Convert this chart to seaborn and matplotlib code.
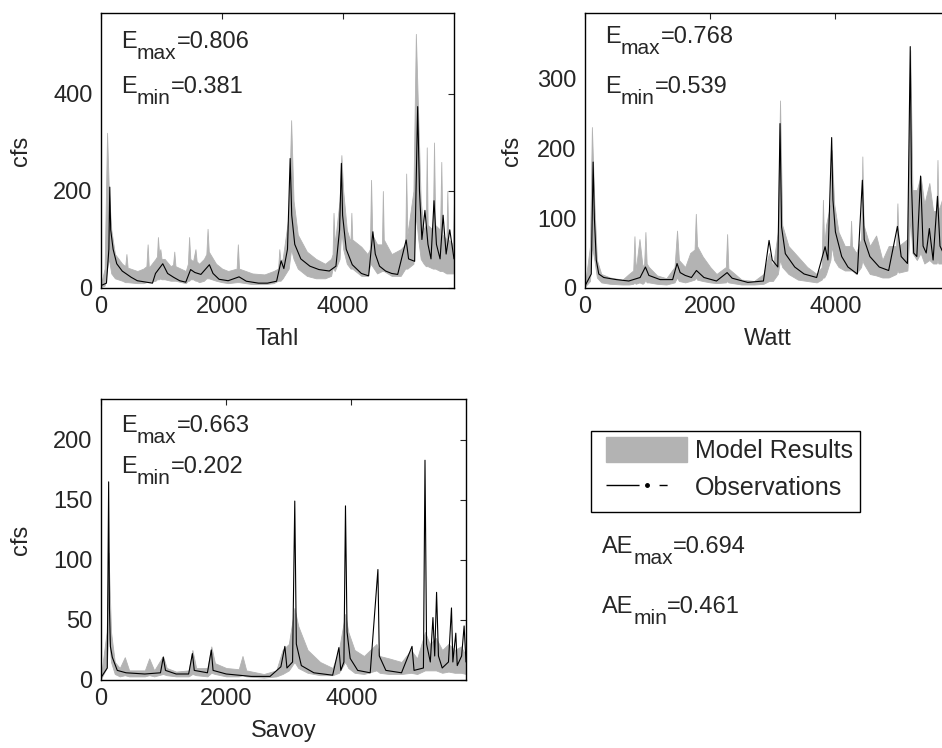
import seaborn as sns
import matplotlib.pyplot as plt
import matplotlib.patches as mpatches
from matplotlib.lines import Line2D
from matplotlib.transforms import offset_copy

# ---- data (time step index vs flow in cfs) ----
tahl_t = [0, 60, 100, 130, 170, 230, 350, 400, 420, 440, 600, 700, 750, 770, 790, 900, 925, 940, 960, 980, 1000, 1050, 1150,
          1190, 1210, 1230, 1400, 1435, 1455, 1475, 1520, 1560, 1580, 1620, 1700, 1740, 1760, 1780, 1900, 2000, 2100,
          2240, 2260, 2280, 2500, 2700, 2850, 2925, 2945, 2965, 3000, 3100, 3140, 3180, 3250, 3400, 3550, 3700, 3800,
          3825, 3840, 3860, 3940, 3970, 4000, 4060, 4120, 4135, 4150, 4300, 4400, 4440, 4460, 4480, 4560, 4640, 4655,
          4670, 4800, 4950, 5025, 5040, 5060, 5160, 5200, 5240, 5280, 5330, 5365, 5380, 5395, 5480, 5500, 5520, 5600,
          5620, 5640, 5705, 5720, 5735, 5810, 5830]
tahl_lo = [2, 5, 40, 60, 30, 20, 15, 12, 12, 12, 10, 10, 12, 12, 12, 15, 18, 18, 18, 20, 18, 18, 15,
           15, 15, 15, 10, 15, 15, 18, 18, 15, 15, 12, 15, 20, 20, 20, 15, 12, 10,
           12, 12, 12, 8, 8, 10, 15, 15, 15, 20, 40, 80, 60, 40, 25, 20, 20, 25,
           40, 40, 35, 60, 120, 80, 50, 40, 40, 40, 25, 25, 45, 50, 45, 30, 35, 35,
           35, 25, 25, 40, 40, 40, 50, 150, 100, 60, 50, 45, 45, 45, 40, 40, 40, 35,
           35, 35, 30, 30, 30, 30, 30]
tahl_hi = [8, 40, 320, 200, 120, 70, 50, 45, 70, 42, 35, 40, 45, 90, 42, 60, 65, 105, 70, 80, 60, 60, 45,
           48, 75, 45, 35, 50, 105, 60, 55, 80, 55, 50, 60, 70, 122, 75, 50, 40, 35,
           40, 90, 40, 30, 28, 35, 40, 80, 55, 60, 150, 346, 180, 110, 75, 60, 50, 60,
           70, 155, 90, 180, 274, 200, 120, 95, 155, 100, 85, 70, 80, 223, 110, 90, 90, 200,
           100, 70, 80, 90, 236, 110, 200, 524, 350, 180, 120, 130, 290, 130, 120, 300, 130, 120,
           260, 110, 100, 200, 100, 90, 180]
tahl_obs_t = [0, 90, 130, 145, 160, 200, 260, 350, 500, 600, 750, 850, 900, 960, 1020, 1100, 1200, 1300, 1400,
              1480, 1550, 1650, 1790, 1850, 1950, 2100, 2280, 2400, 2600, 2750, 2900, 2975, 3020, 3080, 3124, 3150,
              3200, 3300, 3450, 3600, 3770, 3880, 3940, 3970, 3990, 4050, 4150, 4300, 4420, 4490, 4530, 4600, 4700,
              4800, 4900, 5040, 5080, 5180, 5230, 5260, 5300, 5350, 5400, 5450, 5500, 5540, 5600, 5650, 5700, 5760,
              5830]
tahl_obs = [5, 10, 80, 208, 120, 80, 50, 35, 22, 15, 12, 10, 30, 40, 50, 30, 22, 15, 12,
            38, 32, 28, 48, 30, 18, 15, 23, 14, 10, 10, 14, 56, 40, 80, 267, 150,
            90, 60, 45, 38, 35, 45, 120, 257, 150, 80, 48, 30, 25, 116, 70, 45, 35,
            30, 28, 99, 60, 55, 374, 200, 100, 160, 90, 60, 180, 90, 60, 150, 70, 120,
            60]

watt_t = [0, 80, 110, 150, 190, 260, 400, 600, 700, 770, 790, 810, 870, 920, 945, 965, 985, 1020, 1150, 1300, 1430,
          1470, 1500, 1600, 1680, 1750, 1770, 1790, 1880, 2000, 2100, 2250, 2270, 2290, 2500, 2700, 2850, 2940, 3000,
          3080, 3115, 3150, 3250, 3400, 3550, 3700, 3780, 3800, 3820, 3850, 3920, 3940, 3980, 4050, 4150, 4235, 4250,
          4265, 4330, 4410, 4430, 4450, 4550, 4650, 4750, 4850, 4970, 4990, 5010, 5150, 5195, 5230, 5300, 5360, 5420,
          5500, 5560, 5615, 5630, 5645, 5750, 5830]
watt_lo = [2, 10, 60, 40, 15, 8, 6, 5, 5, 6, 8, 6, 8, 6, 8, 12, 8, 8, 6, 5, 8,
           15, 10, 8, 10, 12, 15, 12, 10, 8, 7, 8, 10, 8, 5, 5, 6, 10, 10,
           20, 40, 30, 20, 12, 10, 8, 12, 15, 15, 20, 40, 60, 40, 30, 25, 25, 25,
           25, 20, 30, 40, 35, 20, 18, 15, 15, 20, 25, 22, 25, 100, 50, 40, 50, 35,
           40, 35, 35, 40, 35, 35, 30]
watt_hi = [5, 60, 230, 120, 40, 20, 15, 12, 20, 25, 74, 25, 70, 30, 35, 80, 35, 30, 18, 14, 30,
           82, 40, 30, 50, 55, 106, 60, 45, 30, 20, 30, 77, 28, 12, 10, 20, 50, 30,
           80, 268, 90, 60, 45, 30, 20, 30, 126, 60, 90, 120, 197, 120, 80, 60, 60, 96,
           60, 50, 70, 188, 90, 60, 75, 40, 60, 60, 121, 60, 70, 340, 140, 140, 160, 120,
           150, 110, 110, 183, 110, 140, 100]
watt_obs_t = [0, 100, 130, 150, 180, 220, 300, 500, 700, 880, 965, 1020, 1200, 1400, 1470, 1520, 1600, 1700, 1780,
              1900, 2100, 2270, 2350, 2600, 2850, 2940, 2990, 3080, 3115, 3140, 3200, 3350, 3500, 3700, 3835, 3880,
              3940, 3960, 4000, 4100, 4200, 4350, 4430, 4460, 4550, 4700, 4850, 4990, 5050, 5150, 5195, 5215, 5250,
              5300, 5360, 5400, 5450, 5500, 5560, 5630, 5670, 5750, 5830]
watt_obs = [3, 20, 180, 100, 40, 20, 15, 12, 10, 15, 30, 18, 12, 12, 35, 22, 18, 15, 25,
            15, 10, 22, 14, 8, 10, 68, 40, 30, 235, 87, 49, 30, 20, 15, 59, 40,
            215, 126, 80, 45, 30, 20, 154, 69, 45, 30, 25, 88, 45, 35, 345, 150, 50,
            45, 160, 60, 50, 85, 40, 131, 60, 45, 60]

savoy_t = [0, 90, 120, 160, 220, 300, 380, 450, 700, 770, 850, 990, 1050, 1200, 1400, 1460, 1520, 1700, 1762, 1820,
           2000, 2200, 2260, 2320, 2600, 2800, 2900, 3000, 3090, 3150, 3300, 3500, 3700, 3800, 3900, 3950, 4050, 4200,
           4400, 4450, 4600, 4800, 4950, 5050, 5175, 5250, 5350, 5450, 5550, 5650, 5750, 5830]
savoy_lo = [1, 10, 40, 15, 5, 3, 4, 3, 3, 4, 3, 5, 4, 3, 3, 5, 4, 3, 6, 5,
            3, 3, 4, 3, 2, 3, 5, 8, 15, 10, 6, 4, 4, 6, 15, 10, 6, 5,
            8, 6, 5, 5, 6, 5, 8, 8, 8, 6, 7, 6, 6, 5]
savoy_hi = [3, 40, 106, 40, 15, 10, 19, 8, 8, 18, 8, 20, 10, 7, 8, 25, 10, 10, 28, 14,
            10, 9, 20, 8, 5, 8, 25, 30, 60, 45, 25, 15, 10, 25, 55, 40, 25, 20,
            30, 20, 18, 15, 25, 18, 40, 30, 35, 25, 30, 25, 28, 20]
savoy_obs_t = [0, 100, 122, 135, 150, 180, 260, 400, 700, 950, 995, 1030, 1200, 1400, 1460, 1490, 1700, 1762, 1790,
               2000, 2200, 2400, 2700, 2873, 2937, 2970, 3060, 3095, 3120, 3200, 3400, 3700, 3800, 3830, 3880, 3905,
               3930, 3980, 4100, 4300, 4423, 4445, 4550, 4800, 4968, 5000, 5150, 5175, 5200, 5260, 5302, 5330, 5360,
               5390, 5450, 5550, 5598, 5620, 5667, 5690, 5760, 5800, 5830]
savoy_obs = [2, 10, 165, 60, 28, 19, 8, 6, 5, 6, 19, 8, 5, 5, 22, 8, 6, 25, 8,
             5, 4, 3, 3, 11, 28, 10, 15, 149, 30, 12, 6, 4, 27, 8, 15, 145,
             40, 18, 8, 6, 92, 20, 8, 6, 28, 8, 10, 183, 30, 15, 52, 20, 73,
             20, 10, 15, 60, 15, 39, 12, 20, 45, 15]

sites = ["Tahl", "Watt", "Savoy"]
e_max = ["0.806", "0.768", "0.663"]
e_min = ["0.381", "0.539", "0.202"]
ae_max = "0.694"
ae_min = "0.461"

sns.set_style("white")
plt.rcParams["font.family"] = ["Liberation Sans", "DejaVu Sans"]
plt.rcParams["font.size"] = 17

fig = plt.figure(figsize=(9.42, 7.48), dpi=100)
W, H = 942, 748
renderer = fig.canvas.get_renderer()


def sub_text(x, y, trans, base, sub, rest):
    # MATLAB-like subscript: big subscript, dropped well below the baseline
    t1 = fig.text(x, y, base, transform=trans, va="baseline", fontsize=17)
    w1 = t1.get_window_extent(renderer).width
    t2 = fig.text(x, y, sub, transform=offset_copy(trans, fig, x=w1, y=-11, units="dots"),
                  va="baseline", fontsize=15)
    w2 = t2.get_window_extent(renderer).width
    fig.text(x, y, rest, transform=offset_copy(trans, fig, x=w1 + w2, y=0, units="dots"),
             va="baseline", fontsize=17)


# axes boxes in pixels: left, top, right, bottom
boxes = [(101, 13, 454, 288), (585, 13, 950, 288), (101, 399, 466, 680)]
ylims = [(0, 567), (0, 393), (0, 234)]
yticks = [[0, 200, 400], [0, 100, 200, 300], [0, 50, 100, 150, 200]]
ylabel_right = [32, 523, 32]
ebase = [(48, 93), (43, 93), (432, 473)]
model = [(tahl_t, tahl_lo, tahl_hi), (watt_t, watt_lo, watt_hi), (savoy_t, savoy_lo, savoy_hi)]
obs = [(tahl_obs_t, tahl_obs), (watt_obs_t, watt_obs), (savoy_obs_t, savoy_obs)]
gray = "#b3b3b3"

for i in range(3):
    l, t, r, b = boxes[i]
    ax = fig.add_axes([l / W, 1 - b / H, (r - l) / W, (b - t) / H])
    mt, lo, hi = model[i]
    ax.fill_between(mt, lo, hi, color=gray, lw=0.6, edgecolor=gray)
    sns.lineplot(x=obs[i][0], y=obs[i][1], ax=ax, color="black", lw=0.8, legend=False)
    ax.set_xlim(0, 5830)
    ax.set_ylim(*ylims[i])
    ax.set_xticks([0, 2000, 4000])
    ax.set_yticks(yticks[i])
    ax.tick_params(direction="in", length=4, width=0.8, top=True, right=True, labelsize=17, pad=6)
    for s in ax.spines.values():
        s.set_color("black")
        s.set_linewidth(1.0)
    ax.set_xlabel(sites[i], fontsize=17)
    ax.set_ylabel("cfs", fontsize=17)
    ax.xaxis.set_label_coords(0.5, -(40 / (b - t)))
    ax.yaxis.set_label_coords((ylabel_right[i] - l) / (r - l), 0.5)
    sub_text(20 / (r - l), (b - ebase[i][0]) / (b - t), ax.transAxes, "E", "max", "=" + e_max[i])
    sub_text(20 / (r - l), (b - ebase[i][1]) / (b - t), ax.transAxes, "E", "min", "=" + e_min[i])

# legend: box drawn separately so the inner padding can match the reference
fig.patches.append(mpatches.Rectangle((591 / W, 1 - 512 / H), (860 - 591) / W, (512 - 431) / H,
                                      transform=fig.transFigure, fill=False, ec="black", lw=1.0))
handles = [mpatches.Patch(facecolor=gray, edgecolor=gray),
           Line2D([], [], color="black", lw=1.0, marker=".", markersize=5,
                  linestyle=(0, (23.8, 14.4, 5.8, 40)))]
fig.legend(handles, ["Model Results", "Observations"], loc="upper left", bbox_to_anchor=(606 / W, 1 - 437 / H),
           borderaxespad=0, borderpad=0, frameon=False, fontsize=18,
           handlelength=3.25, handleheight=1.15, numpoints=1, labelspacing=0.45, handletextpad=0.3)

sub_text(602 / W, 1 - 553 / H, fig.transFigure, "AE", "max", "=" + ae_max)
sub_text(602 / W, 1 - 613 / H, fig.transFigure, "AE", "min", "=" + ae_min)

fig.savefig("out.png", dpi=100)
